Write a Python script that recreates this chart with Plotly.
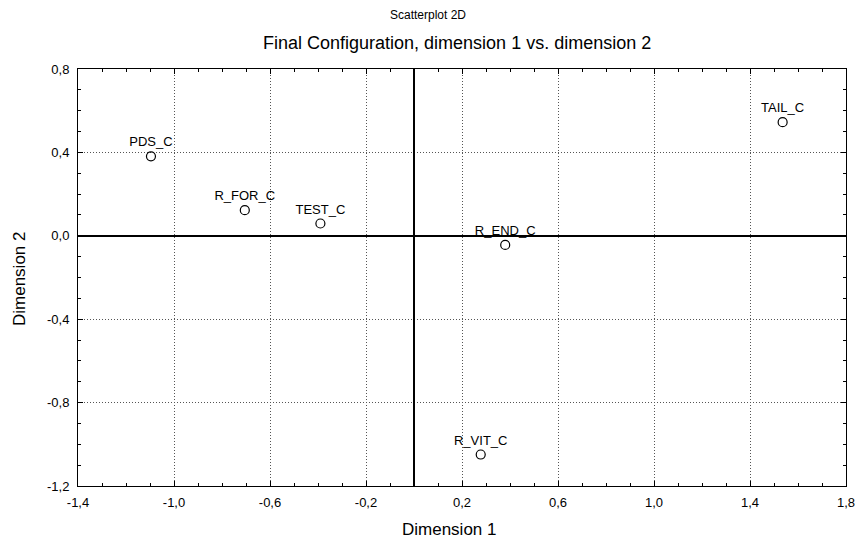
import plotly.graph_objects as go

labels = ["PDS_C", "R_FOR_C", "TEST_C", "R_END_C", "TAIL_C", "R_VIT_C"]
dim1 = [-1.096, -0.705, -0.390, 0.380, 1.536, 0.278]
dim2 = [0.381, 0.123, 0.059, -0.044, 0.545, -1.049]

x_tickvals = [-1.4, -1.0, -0.6, -0.2, 0.2, 0.6, 1.0, 1.4, 1.8]
x_ticktext = ["-1,4", "-1,0", "-0,6", "-0,2", "0,2", "0,6", "1,0", "1,4", "1,8"]
y_tickvals = [-1.2, -0.8, -0.4, 0.0, 0.4, 0.8]
y_ticktext = ["-1,2", "-0,8", "-0,4", "0,0", "0,4", "0,8"]

font = "Liberation Sans, Arial, sans-serif"
W, H = 855, 539
ML, MR, MT, MB = 78, 9, 69, 53
PW, PH = W - ML - MR, H - MT - MB


def px_x(x):
    return (x - ML) / PW


def px_y(y):
    return (H - MB - y) / PH


fig = go.Figure()
fig.add_trace(go.Scatter(
    x=dim1, y=dim2, text=labels, mode="markers+text",
    textposition="top center",
    textfont=dict(family=font, size=13, color="black"),
    marker=dict(symbol="circle-open", size=9, color="black", line=dict(width=1.2, color="black")),
    cliponaxis=False, showlegend=False,
))

axis_common = dict(
    showline=True, linecolor="black", linewidth=1, mirror="ticks",
    ticks="inside", ticklen=5, tickcolor="black", automargin=False,
    ticklabeloverflow="allow",
    showgrid=True, gridcolor="#555555", griddash="1px,2px", gridwidth=1,
    zeroline=True, zerolinecolor="black", zerolinewidth=2,
    tickfont=dict(family=font, size=13, color="black"),
    minor=dict(ticks="inside", ticklen=3, dtick=0.1, tickcolor="black", showgrid=False),
)

fig.update_xaxes(range=[-1.4, 1.8], tickvals=x_tickvals, ticktext=x_ticktext,
                 ticklabelstandoff=4, **axis_common)
fig.update_yaxes(range=[-1.2, 0.8], tickvals=y_tickvals, ticktext=y_ticktext,
                 ticklabelstandoff=5, **axis_common)

fig.update_layout(
    width=W, height=H,
    margin=dict(l=ML, r=MR, t=MT, b=MB, autoexpand=False),
    paper_bgcolor="white", plot_bgcolor="white",
    font=dict(family=font, color="black"),
)

ann = dict(xref="paper", yref="paper", showarrow=False, xanchor="center", yanchor="middle")
fig.add_annotation(text="Scatterplot 2D", x=px_x(428), y=px_y(15),
                   font=dict(family=font, size=12, color="black"), **ann)
fig.add_annotation(text="Final Configuration, dimension 1 vs. dimension 2",
                   x=px_x(457), y=px_y(43),
                   font=dict(family=font, size=18, color="black"), **ann)
fig.add_annotation(text="Dimension 1", x=px_x(449), y=px_y(529),
                   font=dict(family=font, size=17, color="black"), **ann)
fig.add_annotation(text="Dimension 2", x=px_x(19), y=px_y(279), textangle=-90,
                   font=dict(family=font, size=17, color="black"), **ann)

fig.write_html("out.html",
               config={"displayModeBar": False},
               post_script="document.body.style.margin='0';document.body.style.overflow='hidden';")
